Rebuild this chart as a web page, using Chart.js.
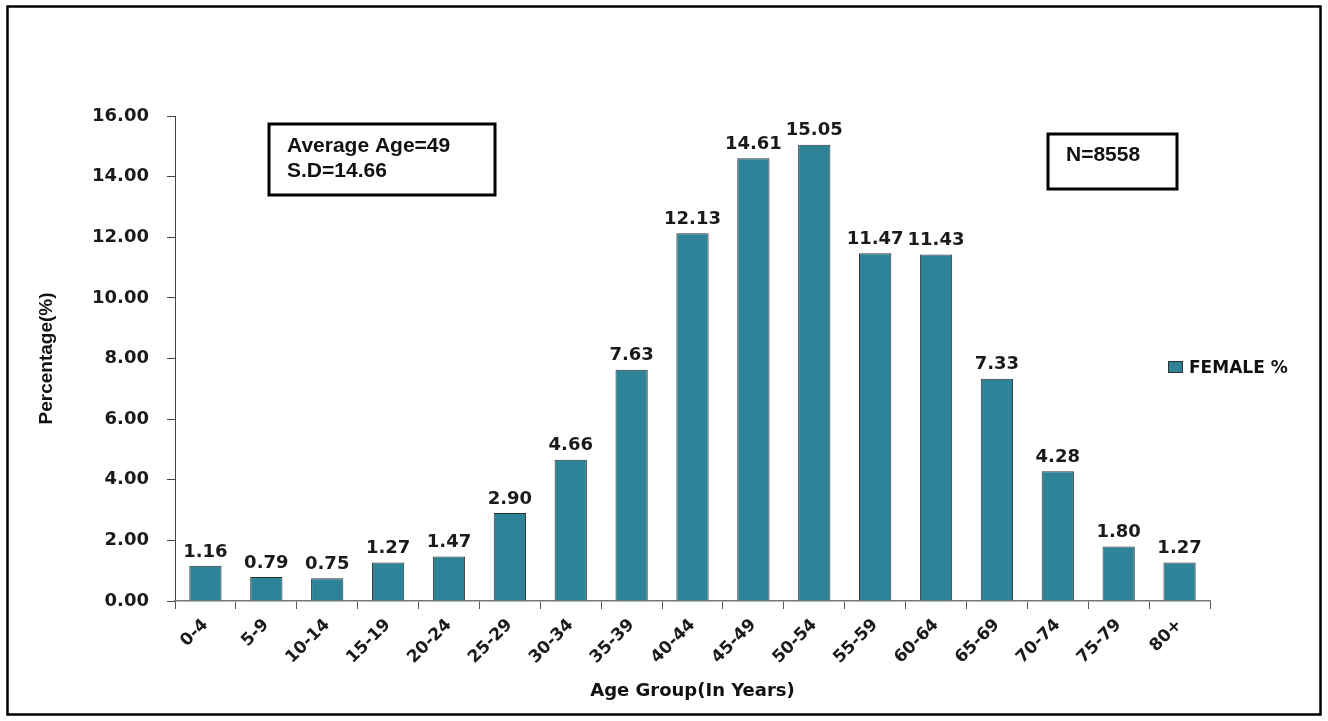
<!DOCTYPE html>
<html>
<head>
<meta charset="utf-8">
<script src="https://cdn.jsdelivr.net/npm/chart.js@4.4.1/dist/chart.umd.min.js"></script>
<style>
  html, body { margin: 0; padding: 0; background: #fff; }
  #wrap { width: 1328px; height: 721px; }
</style>
</head>
<body>
<div id="wrap"><canvas id="chart" width="1328" height="721"></canvas></div>
<script>
const ageGroups = ['0-4', '5-9', '10-14', '15-19', '20-24', '25-29', '30-34', '35-39', '40-44',
  '45-49', '50-54', '55-59', '60-64', '65-69', '70-74', '75-79', '80+'];
const femalePct = [1.16, 0.79, 0.75, 1.27, 1.47, 2.90, 4.66, 7.63, 12.13,
  14.61, 15.05, 11.47, 11.43, 7.33, 4.28, 1.80, 1.27];
const statsLines = ['Average Age=49', 'S.D=14.66'];
const sampleText = 'N=8558';

const BAR = '#2f8399';
const boldFont = "'DejaVu Sans', Verdana, sans-serif";
const boxFont = "'Liberation Sans', Arial, sans-serif";

// value labels over the bars, the two note boxes, legend and frame
const extras = {
  id: 'extras',
  afterDatasetsDraw(chart) {
    const ctx = chart.ctx;
    const meta = chart.getDatasetMeta(0);
    ctx.save();
    ctx.fillStyle = '#1a1a1a';
    ctx.font = 'bold 18px ' + boldFont;
    ctx.textAlign = 'center';
    ctx.textBaseline = 'bottom';
    meta.data.forEach((bar, i) => {
      ctx.fillText(femalePct[i].toFixed(2), bar.x, bar.y - 5);
    });
    ctx.restore();
  },
  afterDraw(chart) {
    const ctx = chart.ctx;
    ctx.save();
    // outer frame
    ctx.strokeStyle = '#000';
    ctx.lineWidth = 2.5;
    ctx.strokeRect(7.5, 6.5, 1313, 708);

    // stats box
    ctx.lineWidth = 3;
    ctx.strokeRect(269, 124, 226, 71);
    ctx.fillStyle = '#111';
    ctx.font = 'bold 21px ' + boxFont;
    ctx.textAlign = 'left';
    ctx.textBaseline = 'alphabetic';
    ctx.fillText(statsLines[0], 287, 152);
    ctx.fillText(statsLines[1], 287, 177);

    // N box
    ctx.strokeRect(1048, 134, 129, 55);
    ctx.fillText(sampleText, 1066, 161);

    // legend
    const ds = chart.data.datasets[0];
    ctx.fillStyle = ds.backgroundColor;
    ctx.fillRect(1168, 361, 14, 11);
    ctx.lineWidth = 1;
    ctx.strokeStyle = '#333';
    ctx.strokeRect(1168.5, 361.5, 14, 11);
    ctx.fillStyle = '#111';
    ctx.font = 'bold 17px ' + boldFont;
    ctx.fillText(ds.label, 1189, 373);
    ctx.restore();
  }
};

new Chart(document.getElementById('chart'), {
  type: 'bar',
  data: {
    labels: ageGroups,
    datasets: [{
      label: 'FEMALE %',
      data: femalePct,
      backgroundColor: BAR,
      borderColor: '#333',
      borderWidth: 1,
      borderSkipped: 'bottom',
      barPercentage: 0.53,
      categoryPercentage: 1.0
    }]
  },
  options: {
    responsive: false,
    animation: false,
    layout: { padding: { left: 10, top: 116, right: 118, bottom: 10 } },
    plugins: {
      legend: { display: false },
      tooltip: { enabled: false }
    },
    scales: {
      y: {
        min: 0,
        max: 16,
        afterFit(scale) { scale.width = 165; },
        border: { display: true, color: '#444', width: 1 },
        grid: { drawOnChartArea: false, tickLength: 8, color: '#444' },
        ticks: {
          stepSize: 2,
          padding: 18,
          color: '#1a1a1a',
          font: { family: boldFont, size: 18, weight: 'bold' },
          callback: (v) => v.toFixed(2)
        },
        title: {
          display: true,
          text: 'Percentage(%)',
          color: '#111',
          font: { family: "'Liberation Sans Narrow', 'Liberation Sans', Arial, sans-serif", size: 19, weight: 'bold' },
          padding: { top: 25, bottom: 0 }
        }
      },
      x: {
        afterFit(scale) { scale.height = 110; },
        border: { display: true, color: '#777', width: 1.5 },
        grid: { drawOnChartArea: false, offset: true, tickLength: 8, color: '#555' },
        ticks: {
          minRotation: 45,
          maxRotation: 45,
          padding: 6,
          color: '#1a1a1a',
          font: { family: boldFont, size: 17, weight: 'bold' }
        },
        title: {
          display: true,
          text: 'Age Group(In Years)',
          color: '#111',
          font: { family: boldFont, size: 18, weight: 'bold' },
          padding: { top: 0, bottom: 9 }
        }
      }
    }
  },
  plugins: [extras]
});
</script>
</body>
</html>
